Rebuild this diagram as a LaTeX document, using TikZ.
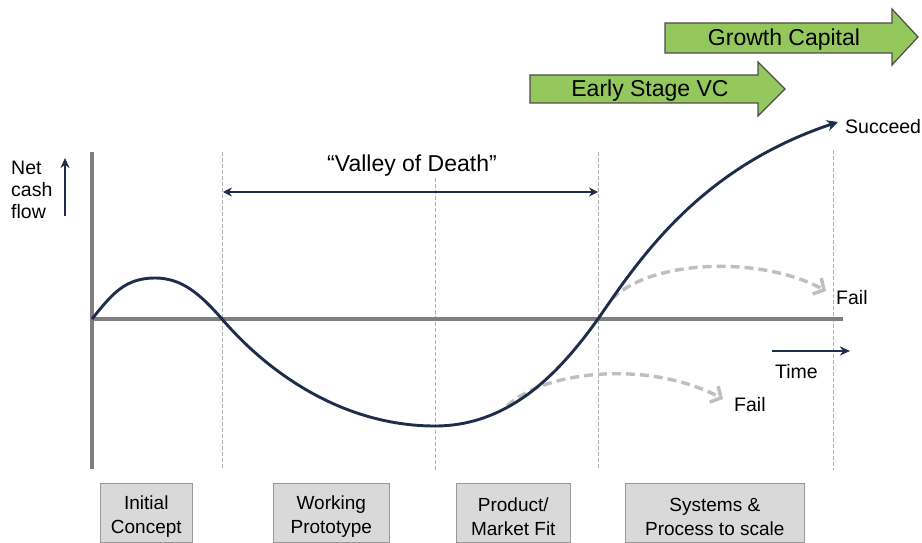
\documentclass[tikz,border=0pt]{standalone}
\usepackage{fontspec}
\setmainfont{Liberation Sans}
\usetikzlibrary{arrows.meta,shapes.arrows}
\definecolor{navy}{HTML}{1F2D4D}
\definecolor{axisgray}{HTML}{7F7F7F}
\definecolor{dashgray}{HTML}{BFBFBF}
\definecolor{vlinegray}{HTML}{B0B0B0}
\definecolor{vcgreen}{HTML}{94C75C}
\definecolor{boxgray}{HTML}{D9D9D9}
\begin{document}
\begin{tikzpicture}[x=1pt,y=-1pt,
  axisline/.style={axisgray,line width=3.2pt},
  guide/.style={vlinegray,line width=1pt,dash pattern=on 4pt off 2pt},
  curveline/.style={navy,line width=2.9pt},
  navyarrow/.style={navy,line width=2.9pt,-{Stealth[length=10pt,width=9pt]}},
  failarrow/.style={dashgray,line width=3.4pt,dash pattern=on 9pt off 5pt,-{Straight Barb[length=8pt,width=18pt,line width=3.4pt]}},
  stagebox/.style={draw=boxgray!70!black,fill=boxgray,line width=0.6pt,inner sep=0pt,minimum height=59pt,anchor=north west},
  stagetext/.style={align=center,font=\fontsize{19}{24}\selectfont,inner sep=0pt},
  label/.style={font=\fontsize{19.5}{22}\selectfont,inner sep=0pt},
  bigtext/.style={font=\fontsize{23}{27}\selectfont,inner sep=0pt},
  greenarrow/.style={draw=black!70,fill=vcgreen,line width=1.2pt,line join=miter}
]
\useasboundingbox (0,0) rectangle (922,543);

% guide lines
\coordinate (g1t) at (222,152); \coordinate (g1b) at (222,470);
\coordinate (g2t) at (435,178); \coordinate (g2b) at (435,470);
\coordinate (g3t) at (598,152); \coordinate (g3b) at (598,470);
\coordinate (g4t) at (833,150); \coordinate (g4b) at (833,470);
\draw[guide] (g1t) -- (g1b);
\draw[guide] (g2t) -- (g2b);
\draw[guide] (g3t) -- (g3b);
\draw[guide] (g4t) -- (g4b);

% axes
\coordinate (yax-t) at (92,152); \coordinate (yax-b) at (92,469);
\coordinate (xax-l) at (92,319); \coordinate (xax-r) at (843,319);
\draw[axisline] (yax-t) -- (yax-b);
\draw[axisline] (xax-l) -- (xax-r);

% fail arrows
\coordinate (f1s) at (612,299); \coordinate (f1e) at (826,291);
\draw[failarrow] (f1s) .. controls (650,260) and (760,255) .. (f1e);
\coordinate (f2s) at (507,406); \coordinate (f2e) at (723,399);
\draw[failarrow] (f2s) .. controls (545,370) and (650,360) .. (f2e);

% main curve
\coordinate (c0) at (92,319);
\coordinate (c1) at (155,278);
\coordinate (c2) at (222,319);
\coordinate (c3) at (435,426);
\coordinate (c4) at (598,319);
\coordinate (c5) at (838,122);
\draw[curveline,-{Stealth[length=11pt,width=11pt]}] (c0) .. controls (112,294) and (125,278) .. (c1)
  .. controls (182,278) and (200,294) .. (c2)
  .. controls (270,375) and (345,426) .. (c3)
  .. controls (510,426) and (560,372) .. (c4)
  .. controls (640,258) and (700,168) .. (c5);

% valley of death
\coordinate (vl) at (223,192); \coordinate (vr) at (598,192);
\draw[navy,line width=2.9pt,{Stealth[length=9pt,width=9pt]}-{Stealth[length=9pt,width=9pt]}] (vl) -- (vr);
\node[bigtext] (vod) at (412,166) {“Valley of Death”};

% net cash flow
\node[label,align=left,anchor=north west] (ncf) at (11,161) {Net\\cash\\flow};
\coordinate (ncfb) at (65,216); \coordinate (ncft) at (65,158);
\draw[navyarrow] (ncfb) -- (ncft);

% time
\coordinate (tl) at (772,351); \coordinate (tr) at (850,351);
\draw[navyarrow] (tl) -- (tr);
\node[label,anchor=north west] (time) at (775,364) {Time};

% labels
\node[label,anchor=west] (succ) at (845,127) {Succeed};
\node[label,anchor=west] (fail1) at (836,298) {Fail};
\node[label,anchor=west] (fail2) at (734,405) {Fail};

% green arrows
\draw[greenarrow] (665,23) -- (892,23) -- (892,9) -- (918,37) -- (892,65) -- (892,53) -- (665,53) -- cycle;
\node[bigtext] (gc) at (784,40) {Growth Capital};
\draw[greenarrow] (530,75) -- (758,75) -- (758,62) -- (785,89) -- (758,116) -- (758,103) -- (530,103) -- cycle;
\node[bigtext] (esvc) at (650,91) {Early Stage VC};

% stage boxes
\node[stagebox,minimum width=92pt] (s1) at (100,483) {};
\node[stagebox,minimum width=116pt] (s2) at (273,483) {};
\node[stagebox,minimum width=114pt] (s3) at (456,483) {};
\node[stagebox,minimum width=179pt] (s4) at (625,483) {};
\node[stagetext] (s1t) at ([yshift=-4pt]s1.center) {Initial\\Concept};
\node[stagetext] (s2t) at ([yshift=-4pt]s2.center) {Working\\Prototype};
\node[stagetext] (s3t) at ([yshift=-4pt]s3.center) {Product/\\Market Fit};
\node[stagetext] (s4t) at ([yshift=-4pt]s4.center) {Systems \&\\Process to scale};
\end{tikzpicture}
\end{document}
